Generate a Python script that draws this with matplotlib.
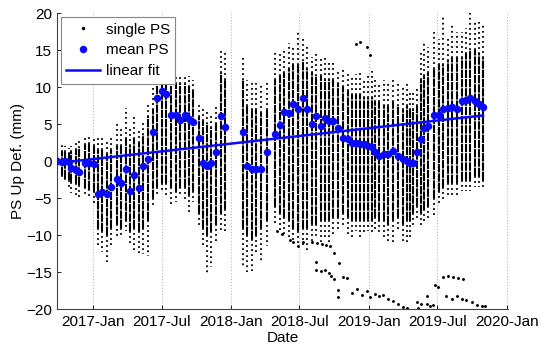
import numpy as np
import matplotlib
matplotlib.use("Agg")
import matplotlib.pyplot as plt
import matplotlib.dates as mdates
from matplotlib.lines import Line2D

plt.rcParams['font.family'] = ['Liberation Sans', 'DejaVu Sans']

# acquisition dates (one column of single PS + one mean value per date)
dates = ['2016-09-27', '2016-10-09', '2016-10-19', '2016-10-28', '2016-11-04', '2016-11-16',
         '2016-11-25', '2016-12-11', '2016-12-21', '2017-01-02',
         '2017-01-13', '2017-01-24', '2017-02-06', '2017-02-18', '2017-03-05', '2017-03-16',
         '2017-03-28', '2017-04-09', '2017-04-20', '2017-05-03', '2017-05-14',
         '2017-05-27', '2017-06-07', '2017-06-20', '2017-07-02', '2017-07-13', '2017-07-26',
         '2017-08-08', '2017-08-19', '2017-09-01', '2017-09-12', '2017-09-23',
         '2017-10-07', '2017-10-18', '2017-10-29', '2017-11-09', '2017-11-22', '2017-12-05',
         '2017-12-16',
         '2018-02-01', '2018-02-13', '2018-02-25', '2018-03-09', '2018-03-21', '2018-04-05',
         '2018-04-27', '2018-05-11', '2018-05-22', '2018-06-03', '2018-06-15', '2018-06-28',
         '2018-07-11', '2018-07-22', '2018-08-02', '2018-08-14', '2018-08-26', '2018-09-07',
         '2018-09-18', '2018-09-29', '2018-10-12',
         '2018-10-25', '2018-11-06', '2018-11-16', '2018-11-27', '2018-12-08', '2018-12-20',
         '2018-12-30', '2019-01-09', '2019-01-17', '2019-01-28', '2019-02-10', '2019-02-21',
         '2019-03-06', '2019-03-19', '2019-03-31', '2019-04-11', '2019-04-19', '2019-04-27',
         '2019-05-07',
         '2019-05-19', '2019-05-27', '2019-06-07', '2019-06-23', '2019-07-05', '2019-07-17',
         '2019-07-30', '2019-08-09', '2019-08-21', '2019-09-03', '2019-09-15', '2019-09-25',
         '2019-10-08', '2019-10-19', '2019-10-30']

# mean PS up deformation [mm]
mean_ps = [0.0, -0.1, 0.0, -0.1, -0.9, -1.2, -1.5, -0.2, -0.2, -0.4,
           -4.4, -4.1, -4.4, -3.5, -2.4, -2.9, -1.1, -4.0, -1.9, -3.6, -0.7,
           0.3, 3.9, 8.6, 9.5, 9.1, 6.3, 6.3, 5.6, 6.3, 5.7, 5.3,
           3.1, -0.2, -0.6, -0.2, 1.2, 6.1, 4.6,
           3.9, -0.6, -1.1, -1.1, -1.0, 1.3,
           3.7, 4.9, 6.7, 6.5, 7.7, 7.1, 8.5, 7.1, 5.1, 6.1, 4.8, 5.9, 5.4, 5.4, 4.5,
           3.2, 3.0, 2.5, 2.5, 2.4, 2.3, 2.1, 1.9, 1.2, 0.7, 1.0, 1.0, 1.4, 0.65, 0.3,
           0.1, -0.2, -0.3, 1.3,
           3.0, 4.5, 4.8, 6.3, 6.2, 7.1, 7.2, 7.4, 7.1, 8.1, 8.3, 8.6, 8.2, 7.7, 7.3]

# spread of the single PS per date: sparse top, dense top, dense bottom, sparse bottom
ps_top = [2.0, 2.2, 2.0, 1.8, 2.1, 2.6, 2.8, 3.2, 3.3, 3.0,
          3.5, 3.2, 3.0, 3.3, 5.2, 4.8, 7.2, 4.5, 6.0, 4.5, 5.5,
          8.0, 10.0, 12.0, 12.5, 13.5, 12.0, 11.5, 11.5, 11.8, 11.5, 11.0,
          8.0, 7.5, 7.0, 6.5, 7.5, 15.0, 14.8,
          14.4, 11.0, 10.8, 10.8, 10.5, 11.0,
          15.0, 14.5, 15.2, 16.0, 15.5, 17.7, 16.8, 15.5, 14.1, 14.5, 14.0, 14.1, 13.5, 13.7, 12.5,
          12.5, 12.0, 11.5, 11.8, 12.0, 11.0, 11.5, 12.2, 11.0, 10.5, 11.0, 10.5, 11.2, 10.5, 10.0,
          10.5, 9.5, 9.5, 10.0,
          15.0, 16.0, 15.5, 17.5, 16.5, 19.8, 17.0, 18.7, 17.5, 17.5, 18.0, 20.0, 19.0, 18.8, 18.6]
ps_core_top = [1.2, 1.3, 1.2, 1.0, 1.2, 1.5, 1.8, 2.2, 2.3, 2.0,
               1.5, 1.5, 1.0, 1.5, 2.0, 2.0, 3.0, 2.0, 3.0, 2.5, 3.5,
               6.0, 7.0, 11.0, 11.0, 11.5, 11.0, 10.5, 10.5, 10.5, 10.0, 9.5,
               6.0, 5.5, 5.0, 4.5, 5.0, 12.0, 11.0,
               11.0, 7.5, 7.0, 7.0, 6.5, 7.0,
               11.0, 11.5, 12.0, 12.5, 13.0, 13.0, 13.5, 12.5, 12.0, 11.5, 11.5, 11.0, 11.0, 11.0, 10.5,
               10.0, 9.5, 9.0, 9.0, 9.0, 8.5, 8.5, 8.5, 8.0, 8.0, 7.5, 7.5, 8.0, 7.5, 7.0,
               7.5, 7.0, 7.0, 7.5,
               11.0, 11.5, 12.0, 12.5, 13.0, 13.0, 13.5, 14.0, 14.0, 14.0, 14.5, 15.0, 15.0, 14.5, 14.0]
ps_core_bot = [-1.5, -1.8, -2.2, -2.5, -2.8, -3.0, -3.2, -3.5, -3.8, -4.0,
               -9.0, -9.5, -10.0, -9.0, -8.5, -9.0, -8.0, -9.5, -9.0, -9.5, -9.0,
               -8.0, -5.0, -3.5, -3.0, -3.0, -3.5, -4.0, -3.5, -3.5, -4.5, -4.0,
               -7.0, -9.0, -10.0, -9.5, -8.5, -7.0, -6.5,
               -9.0, -10.0, -10.5, -10.0, -9.0, -8.0,
               -6.0, -7.0, -7.5, -8.0, -9.0, -9.5, -9.0, -9.0, -8.5, -8.5, -8.0, -8.0, -8.0, -7.5, -7.5,
               -7.0, -7.5, -8.0, -8.0, -8.0, -8.0, -8.0, -8.0, -7.5, -8.0, -8.0, -8.5, -8.0, -7.5, -8.5,
               -8.0, -8.0, -7.0, -6.0,
               -7.0, -6.5, -6.0, -5.0, -4.0, -3.5, -3.0, -3.0, -3.0, -2.5, -2.5, -2.5, -2.0, -2.0, -2.5]
ps_bot = [-2.2, -2.6, -3.0, -3.6, -4.3, -4.5, -5.1, -4.5, -5.0, -5.6,
          -11.5, -12.3, -13.7, -11.8, -10.5, -10.0, -9.5, -11.0, -12.3, -12.8, -12.5,
          -12.8, -6.0, -4.5, -4.3, -5.0, -6.0, -5.5, -4.5, -5.5, -7.2, -5.5,
          -9.0, -11.5, -15.3, -14.3, -11.0, -9.5, -9.5,
          -14.3, -15.0, -14.8, -12.5, -13.8, -11.5,
          -8.5, -9.5, -10.0, -10.5, -11.0, -11.5, -11.5, -12.0, -11.0, -10.5, -11.0, -10.5, -11.0, -10.0, -9.5,
          -9.0, -10.0, -10.5, -9.5, -10.5, -10.0, -9.5, -10.0, -9.5, -10.0, -10.5, -11.0, -11.0, -9.5, -11.0,
          -11.2, -10.5, -9.0, -8.0,
          -9.0, -8.5, -8.0, -7.5, -6.0, -5.5, -5.0, -4.5, -4.5, -4.0, -4.0, -4.0, -3.5, -3.5, -3.5]

# isolated single PS far from the main columns
out_dates = ['2018-05-02', '2018-05-15', '2018-06-06', '2018-06-15', '2018-06-28', '2018-07-11',
             '2018-08-02', '2018-08-16', '2018-08-29', '2018-09-09', '2018-09-20', '2018-09-30',
             '2018-10-14', '2018-10-25', '2018-11-03', '2018-10-12', '2018-10-12',
             '2018-08-14', '2018-08-14', '2018-08-27', '2018-09-07', '2018-09-17', '2018-09-23',
             '2018-09-30', '2018-11-16', '2018-11-29', '2018-12-13', '2018-12-26', '2019-01-04',
             '2019-01-17', '2019-01-28', '2019-02-08', '2019-02-21', '2019-03-06', '2019-03-18',
             '2019-03-31', '2019-04-11', '2019-05-07', '2019-05-20', '2019-06-03', '2019-06-11',
             '2019-06-20', '2019-06-25', '2019-07-03', '2019-07-17', '2019-07-30', '2019-08-12',
             '2019-08-25', '2019-09-07', '2019-07-25', '2019-08-08', '2019-08-21', '2019-09-03',
             '2019-09-16', '2019-09-30', '2019-10-13', '2019-10-26', '2019-11-04', '2019-05-11',
             '2019-06-03', '2018-11-27', '2018-12-09', '2018-12-26', '2019-01-04']
out_vals = [-9.5, -9.8, -10.6, -10.9, -11.5, -10.9,
            -10.9, -11.0, -11.2, -11.4, -11.5, -12.4,
            -13.8, -15.6, -15.8, -17.4, -18.4,
            -13.6, -14.7, -14.9, -14.7, -15.1, -15.5,
            -15.9, -17.8, -17.3, -18.1, -17.6, -18.4,
            -17.9, -18.2, -18.1, -18.6, -18.9, -19.3,
            -19.7, -19.9, -19.1, -19.3, -18.3, -19.6,
            -19.4, -16.8, -17.0, -15.6, -15.5, -15.7,
            -15.8, -15.9, -18.3, -18.6, -18.3, -18.6,
            -18.8, -19.0, -19.4, -19.6, -19.6, -19.8,
            -19.3, 15.8, 16.1, 15.5, 14.4]

# linear fit values at first and last acquisition
fit_vals = [-0.25, 6.2]

x_ticks = ['2017-01-01', '2017-07-01', '2018-01-01', '2018-07-01', '2019-01-01',
           '2019-07-01', '2020-01-01']
x_labels = ['2017-Jan', '2017-Jul', '2018-Jan', '2018-Jul', '2019-Jan', '2019-Jul', '2020-Jan']


def to_num(d):
    return mdates.date2num(np.array(d, dtype='datetime64[D]'))


def main():
    x = to_num(dates)
    fig = plt.figure(figsize=(5.5, 3.54), dpi=100)
    ax = fig.add_axes([0.1036, 0.127, 0.82, 0.835])

    # single PS columns: dense core and sparse tails
    ax.vlines(x, ps_core_bot, ps_core_top, colors='k', linewidth=1.5,
              linestyles=[(0, (4, 0.45))], zorder=2)
    ax.vlines(x, ps_core_top, ps_top, colors='k', linewidth=1.3,
              linestyles=[(0, (1, 1.8))], zorder=2)
    ax.vlines(x, ps_core_bot, ps_bot, colors='k', linewidth=1.3,
              linestyles=[(0, (1, 1.8))], zorder=2)
    ax.plot(to_num(out_dates), out_vals, '.k', markersize=2.2, zorder=2)

    ax.plot(x, mean_ps, 'o', color='#0a0aff', markersize=5.4, markeredgewidth=0, zorder=3)
    ax.plot([x[0], x[-1]], fit_vals, '-', color='#0a0aff', linewidth=1.8, zorder=4)

    ax.set_xlim(to_num('2016-09-27'), to_num('2020-01-04'))
    ax.set_ylim(-20, 20)
    ax.set_xticks(to_num(x_ticks))
    ax.set_xticklabels(x_labels)
    ax.set_yticks(range(-20, 21, 5))
    ax.tick_params(direction='in', labelsize=11, length=3, width=0.6)
    ax.tick_params(axis='x', pad=4)
    ax.xaxis.grid(True, linestyle=':', color='#b8b8b8', linewidth=0.8)
    ax.set_axisbelow(True)
    for s in ['top', 'right']:
        ax.spines[s].set_visible(False)
    for s in ['left', 'bottom']:
        ax.spines[s].set_color('#444444')
        ax.spines[s].set_linewidth(0.8)

    ax.set_xlabel('Date', fontsize=11, labelpad=2)
    ax.set_ylabel('PS Up Def. (mm)', fontsize=11, labelpad=1)

    handles = [Line2D([], [], marker='.', color='k', linestyle='none', markersize=3),
               Line2D([], [], marker='o', color='#0a0aff', linestyle='none', markersize=5.4,
                      markeredgewidth=0),
               Line2D([], [], color='#0a0aff', linewidth=1.8)]
    leg = ax.legend(handles, ['single PS', 'mean PS', 'linear fit'], loc='upper left',
                    fontsize=11, fancybox=False, framealpha=1, borderaxespad=0.25,
                    handlelength=2.2, handletextpad=0.4, borderpad=0.35, labelspacing=0.45)
    leg.get_frame().set_edgecolor('#888888')
    leg.get_frame().set_linewidth(0.8)

    fig.savefig('out.png', dpi=100)


if __name__ == "__main__":
    main()
